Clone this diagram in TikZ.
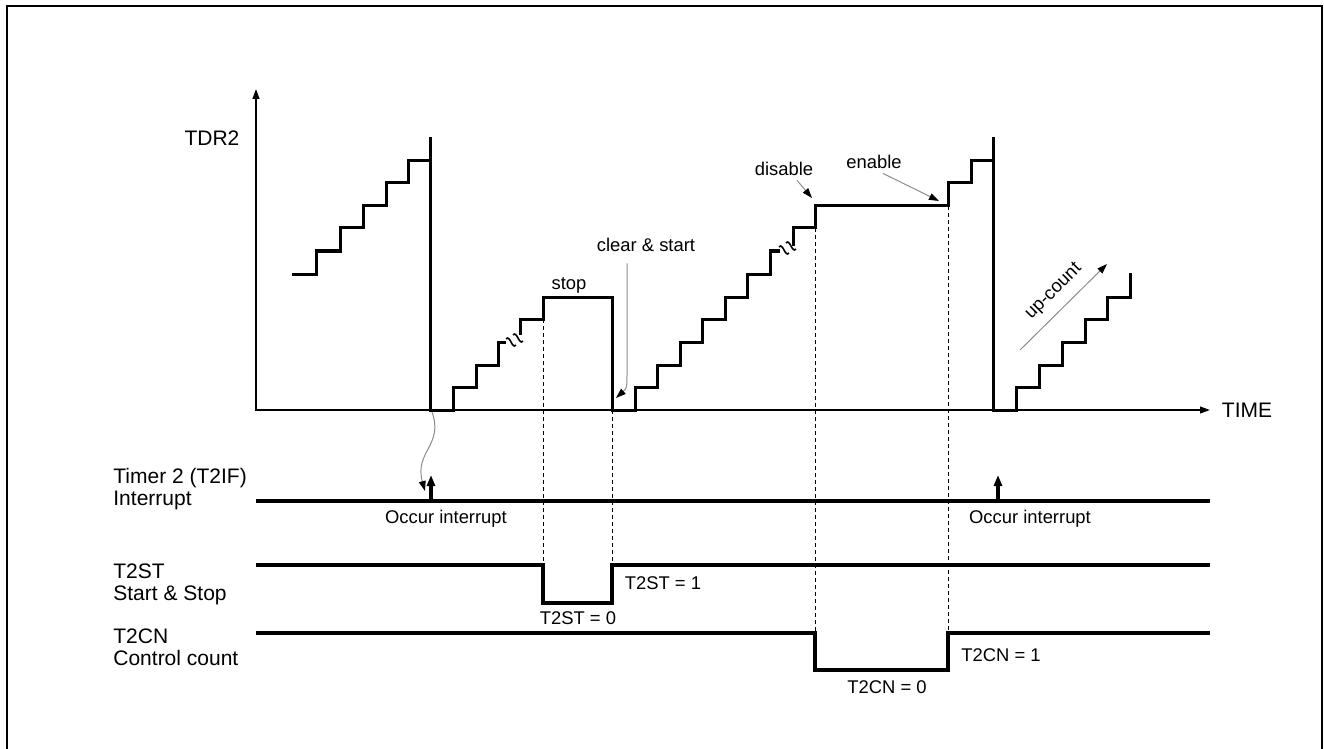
\documentclass[tikz,border=0pt]{standalone}
\usepackage{fontspec}
\setmainfont{Liberation Sans}
\usetikzlibrary{arrows.meta,positioning}

\begin{document}
\begin{tikzpicture}[x=0.5pt, y=-0.5pt, >={Triangle[length=5pt,width=3.4pt]},
  frame/.style={line width=1pt},
  axis/.style={line width=0.75pt},
  count/.style={line width=1.5pt},
  signal/.style={line width=1.6pt},
  guide/.style={line width=0.5pt, dash pattern=on 2pt off 1.5pt},
  brk/.style={line width=0.8pt},
  note/.style={-{Triangle[length=5pt,width=3.4pt,color=black]}, draw=black!45, line width=0.5pt},
  irq/.style={signal, -{Triangle[length=5.5pt,width=4pt]}},
  big/.style={font=\fontsize{10.5}{10.8}\selectfont, inner sep=0pt},
  small/.style={font=\fontsize{9.2}{11}\selectfont, inner sep=0pt, text height=6.6pt, text depth=0pt}]
\useasboundingbox (0,0) rectangle (1324,749);
\draw[frame] (7,749) -- (7,6) -- (1322,6) -- (1322,749);

\coordinate (O) at (256,410);
\coordinate (ytop) at (256,89);
\coordinate (xend) at (1210,410);
\coordinate (irq1) at (431,501);
\coordinate (irq2) at (998,501);
\coordinate (intA) at (432,412);
\coordinate (intB) at (425,491);
\coordinate (clrP) at (616,398);
\coordinate (disP) at (812,198);
\coordinate (enaP) at (939,201);
\coordinate (upA) at (1020,350);
\coordinate (upB) at (1107,264);

\node[big, text height=7.5pt, text depth=0pt] (tdr) at (212,138) {TDR2};
\node[big, text height=7.5pt, text depth=0pt] (time) at (1247,410) {TIME};
\node[big, align=left, anchor=base west] (irqlbl) at (113,505) {Timer 2 (T2IF)\\Interrupt};
\node[big, align=left, anchor=base west] (stlbl) at (113,600) {T2ST\\Start \& Stop};
\node[big, align=left, anchor=base west] (cnlbl) at (113,665) {T2CN\\Control count};
\node[small] (stop) at (569,283) {stop};
\node[small] (clr) at (646,245) {clear \& start};
\node[small] (dis) at (784,169) {disable};
\node[small] (ena) at (874,162) {enable};
\node[small, rotate=45] (up) at (1052,290) {up-count};
\node[small] (occ1) at (446,517) {Occur interrupt};
\node[small] (occ2) at (1030,517) {Occur interrupt};
\node[small] (st0) at (578,618) {T2ST = 0};
\node[small] (st1) at (663,583) {T2ST = 1};
\node[small] (cn0) at (887,687) {T2CN = 0};
\node[small] (cn1) at (1001,655) {T2CN = 1};

\draw[guide] (543,319) -- (543,565);
\draw[guide] (612,410) -- (612,565);
\draw[guide] (815,228) -- (815,633);
\draw[guide] (948,206) -- (948,633);

\draw[axis, <->] (ytop) -- (O) -- (xend);

\draw[count] (292,274) -| (316,251) -| (340,228) -| (363,206) -| (386,183) -| (408,161) -- (430,161);
\draw[count] (430,137) -- (430,410) -| (453,387) -| (476,365) -| (498,342) -- (506,342);
\draw[count] (520,335) -- (520,319) -| (543,297) -- (612,297) -- (612,410) -| (635,387) -| (657,365) -| (680,342) -| (702,319) -| (725,297) -| (747,274) -| (770,251) -- (780,251);
\draw[count] (793,246) -- (793,228) -| (815,206) -| (948,183) -| (971,161) -- (993,161);
\draw[count] (993,137) -- (993,410) -| (1016,387) -| (1039,365) -| (1062,342) -| (1085,319) -| (1107,297) -| (1130,273);
\foreach \cx/\cy in {511/342, 518/338, 784/250, 791/246}
  \draw[brk] (\cx-5,\cy-3) .. controls (\cx-1,\cy-8) and (\cx+1,\cy+8) .. (\cx+5,\cy+3);

\draw[signal] (256,501) -- (1210,501);
\draw[signal] (256,565) -| (543,603) -| (612,565) -- (1210,565);
\draw[signal] (256,633) -| (815,670) -| (948,633) -- (1210,633);
\draw[irq] (irq1) -- ++(0,-26);
\draw[irq] (irq2) -- ++(0,-26);

\draw[note] (intA) .. controls (444,445) and (414,452) .. (intB);
\draw[note] ([xshift=-9.5pt,yshift=-5.7pt]clr.south) -- (627,372) .. controls (627,388) .. (clrP);
\draw[note] ([xshift=6.5pt,yshift=-2.2pt]dis.south) -- (disP);
\draw[note] ([xshift=4.5pt,yshift=-2.2pt]ena.south) -- (enaP);
\draw[note] (upA) -- (upB);
\end{tikzpicture}
\end{document}
